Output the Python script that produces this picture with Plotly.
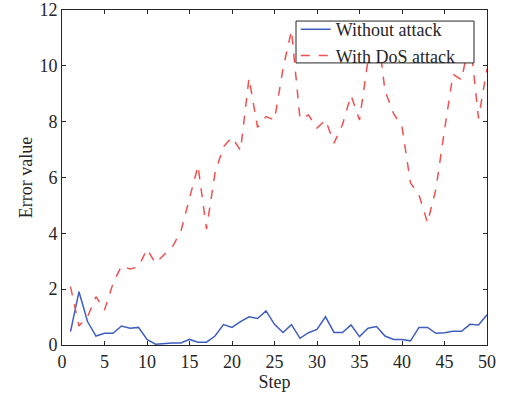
import plotly.graph_objects as go

steps = list(range(1, 51))
without_attack = [0.48, 1.91, 0.84, 0.32, 0.42, 0.42, 0.68, 0.60, 0.63, 0.20,
                  0.03, 0.06, 0.07, 0.07, 0.20, 0.10, 0.10, 0.32, 0.73, 0.63,
                  0.84, 1.01, 0.95, 1.22, 0.74, 0.45, 0.73, 0.24, 0.44, 0.56,
                  1.01, 0.45, 0.45, 0.72, 0.30, 0.60, 0.66, 0.32, 0.20, 0.20,
                  0.15, 0.63, 0.63, 0.42, 0.44, 0.49, 0.49, 0.74, 0.72, 1.08]
with_dos = [2.09, 0.68, 1.01, 1.73, 1.25, 2.2, 2.84, 2.72, 2.8, 3.44,
            2.93, 3.22, 3.52, 4.09, 5.3, 6.42, 4.15, 6.16, 7.1, 7.44,
            6.97, 9.56, 7.8, 8.18, 8.06, 9.9, 11.27, 8.1, 8.24, 7.77,
            8.06, 7.23, 7.9, 8.94, 8.06, 10.2, 11.6, 9.1, 8.3, 7.82,
            5.8, 5.38, 4.38, 5.6, 7.7, 9.7, 9.5, 11.0, 8.12, 9.9]
x_ticks = list(range(0, 51, 5))
y_ticks = list(range(0, 13, 2))

font_family = "Liberation Serif, Times New Roman, Times, serif"
ink = "#262626"

fig = go.Figure()
fig.add_trace(go.Scatter(x=steps, y=without_attack, mode="lines", name="Without attack",
                         line=dict(color="#3f5fbf", width=1.5)))
fig.add_trace(go.Scatter(x=steps, y=with_dos, mode="lines", name="With DoS attack",
                         line=dict(color="#f25050", width=1.5, dash="dash")))

axis_common = dict(showline=True, linecolor=ink, linewidth=1, mirror="ticks",
                   ticks="inside", ticklen=4, tickcolor=ink, showgrid=False,
                   zeroline=False, automargin=False,
                   tickfont=dict(family=font_family, size=18, color=ink),
                   title_font=dict(family=font_family, size=18, color=ink))

fig.update_xaxes(range=[0, 50], tickvals=x_ticks, title_text="Step", title_standoff=3, **axis_common)
fig.update_yaxes(range=[0, 12], tickvals=y_ticks, title_text="Error value", title_standoff=2, **axis_common)

# legend frame (white box behind the legend entries)
fig.add_shape(type="rect", xref="paper", yref="paper",
              x0=0.5506, x1=0.9694, y0=0.842, y1=0.967,
              fillcolor="white", line=dict(color=ink, width=1), layer="above")

fig.update_layout(
    width=510, height=393,
    margin=dict(l=62, r=23, t=10, b=48, autoexpand=False),
    paper_bgcolor="white", plot_bgcolor="white",
    font=dict(family=font_family, size=18, color=ink),
    legend=dict(x=0.55, y=0.997, xanchor="left", yanchor="top",
                bgcolor="rgba(0,0,0,0)", borderwidth=0,
                font=dict(family=font_family, size=18, color=ink),
                tracegroupgap=0, itemwidth=30),
    showlegend=True,
)

fig.write_html("out.html", post_script="document.body.style.margin='0';",
               config={"displayModeBar": False})
